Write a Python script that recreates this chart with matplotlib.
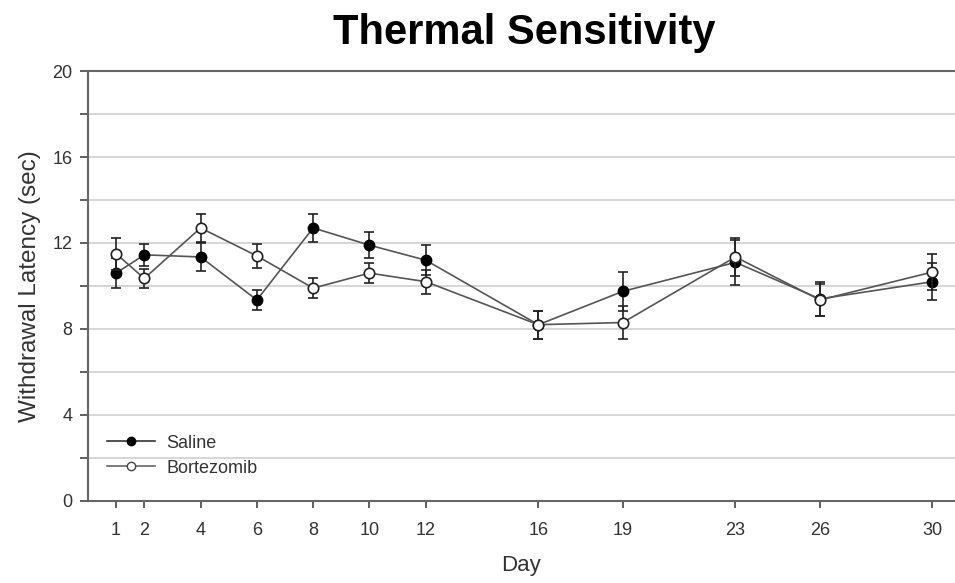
import numpy as np
import matplotlib

matplotlib.use("Agg")
import matplotlib.pyplot as plt
from matplotlib.lines import Line2D
from matplotlib.ticker import MultipleLocator

plt.rcParams["font.family"] = ["Liberation Sans", "DejaVu Sans"]

days = [1, 2, 4, 6, 8, 10, 12, 16, 19, 23, 26, 30]
saline = [10.6, 11.45, 11.35, 9.35, 12.7, 11.9, 11.2, 8.2, 9.75, 11.1, 9.4, 10.2]
saline_err = [0.7, 0.5, 0.65, 0.45, 0.65, 0.6, 0.7, 0.65, 0.9, 1.05, 0.8, 0.85]
bortezomib = [11.5, 10.35, 12.7, 11.4, 9.9, 10.6, 10.2, 8.2, 8.3, 11.35, 9.35, 10.65]
bort_err = [0.75, 0.45, 0.65, 0.55, 0.45, 0.45, 0.55, 0.65, 0.75, 0.9, 0.75, 0.85]

text_col = "#333333"
line_col = "#555555"

fig = plt.figure(figsize=(9.55, 5.83), dpi=100)
ax = fig.add_axes([0.0921, 0.1407, 0.9079, 0.7375])

ax.errorbar(days, saline, yerr=saline_err, color=line_col, lw=1.2,
            marker="o", ms=7.5, mfc="black", mec="black", ecolor="#222222",
            elinewidth=1.2, capsize=3.5, capthick=1.2, zorder=3)
ax.errorbar(days, bortezomib, yerr=bort_err, color=line_col, lw=1.2,
            marker="o", ms=7.5, mfc="white", mec="#222222", mew=1.2,
            ecolor="#222222", elinewidth=1.2, capsize=3.5, capthick=1.2,
            zorder=4)

ax.set_xlim(0, 30.8)
ax.set_ylim(0, 20)
ax.set_xticks(days)
ax.yaxis.set_major_locator(MultipleLocator(4))
ax.yaxis.set_minor_locator(MultipleLocator(2))
ax.grid(True, which="both", axis="y", color="#d0d0d0", lw=1.2, zorder=0)
ax.set_axisbelow(True)

for side in ["left", "bottom", "top"]:
    ax.spines[side].set_color("#666666")
    ax.spines[side].set_linewidth(1.5)
ax.spines["right"].set_visible(False)

ax.tick_params(axis="both", which="both", direction="out", color="#444444",
               labelcolor=text_col, labelsize=13)
ax.tick_params(axis="x", length=5, width=1.2, pad=10)
ax.tick_params(axis="y", which="both", length=6, width=1.2, pad=5)

ax.set_xlabel("Day", fontsize=16, color=text_col, labelpad=12)
ax.set_ylabel("Withdrawal Latency (sec)", fontsize=17.5, color=text_col,
              labelpad=8)
fig.text(0.549, 0.944, "Thermal Sensitivity", fontsize=30, fontweight="bold",
         ha="center", va="center", color="black")

handles = [
    Line2D([], [], color="#333333", lw=1.2, marker="o", ms=6, mfc="black",
           mec="black"),
    Line2D([], [], color="#666666", lw=1.2, marker="o", ms=6, mfc="white",
           mec="#444444"),
]
ax.legend(handles, ["Saline", "Bortezomib"], loc="lower left",
          bbox_to_anchor=(0.007, 0.027), frameon=False, fontsize=13,
          handlelength=2.7, handletextpad=0.6, labelspacing=0.45,
          labelcolor=text_col, borderaxespad=0.3)

fig.savefig("out.png", dpi=100)
